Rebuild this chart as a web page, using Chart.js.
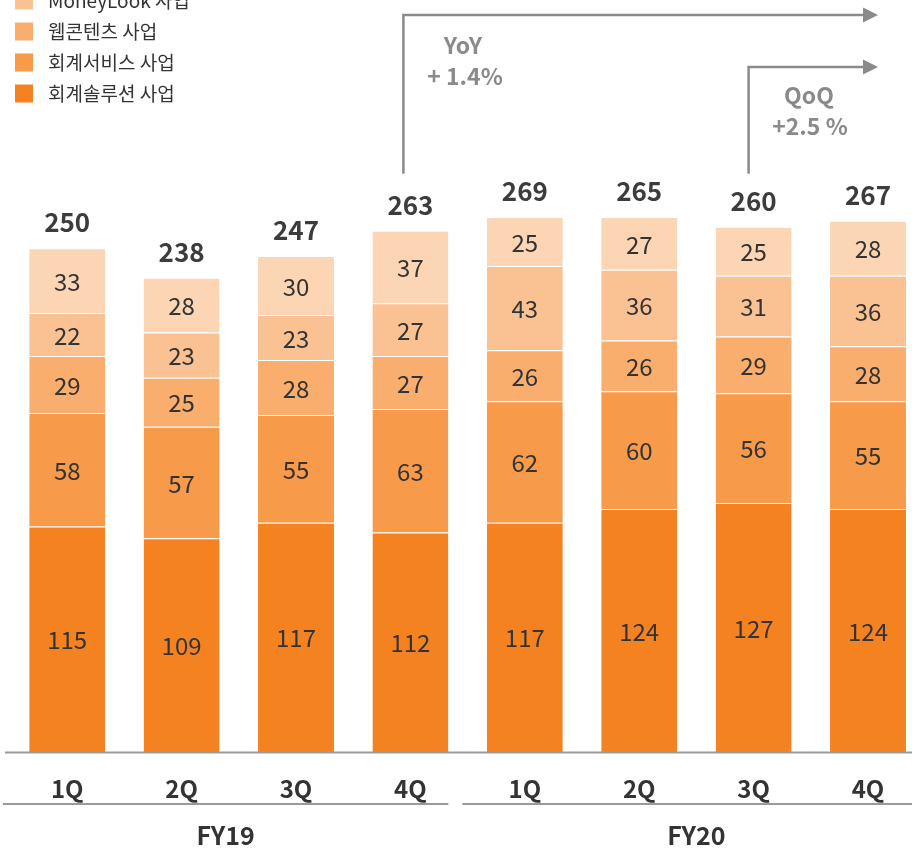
<!DOCTYPE html>
<html>
<head>
<meta charset="utf-8">
<script src="https://cdn.jsdelivr.net/npm/chart.js@4/dist/chart.umd.min.js"></script>
<style>
html,body{margin:0;padding:0;background:#fff;overflow:hidden;width:912px;height:848px;}
#wrap{position:absolute;left:0;top:0;width:940px;height:848px;}
</style>
</head>
<body>
<div id="wrap"><canvas id="c" width="940" height="848"></canvas></div>
<script>
// ---- data ----
const quarters = ['1Q','2Q','3Q','4Q','1Q','2Q','3Q','4Q'];
const fiscalYears = ['FY19','FY20'];
const seriesNames = ['회계솔루션 사업','회계서비스 사업','웹콘텐츠 사업','MoneyLook 사업','기타 사업'];
const accountingSolution = [115,109,117,112,117,124,127,124];
const accountingService  = [58,57,55,63,62,60,56,55];
const webContents        = [29,25,28,27,26,26,29,28];
const moneyLook          = [22,23,23,27,43,36,31,36];
const others             = [33,28,30,37,25,27,25,28];
const totals             = [250,238,247,263,269,265,260,267];
const yoyText = ['YoY','+ 1.4%'];
const qoqText = ['QoQ','+2.5 %'];

const colors = ['#F58220','#F79A4A','#F9AE6E','#FAC193','#FCD5B4'];
const seriesValues = [accountingSolution, accountingService, webContents, moneyLook, others];
const FONT = '"Noto Sans CJK KR", "Noto Sans", sans-serif';

const overlay = {
  id: 'overlay',
  afterDatasetsDraw(chart) {
    const ctx = chart.ctx;
    ctx.save();
    ctx.textAlign = 'center';
    ctx.textBaseline = 'middle';
    // segment labels
    ctx.font = '400 24px ' + FONT;
    ctx.fillStyle = '#333333';
    chart.data.datasets.forEach((ds, di) => {
      const meta = chart.getDatasetMeta(di);
      meta.data.forEach((bar, i) => {
        const cy = (bar.y + bar.base) / 2;
        ctx.fillText(String(ds.data[i]), bar.x, cy + 1);
      });
    });
    // totals
    const topMeta = chart.getDatasetMeta(chart.data.datasets.length - 1);
    ctx.font = '700 26px ' + FONT;
    ctx.fillStyle = '#3c3c3c';
    topMeta.data.forEach((bar, i) => {
      ctx.fillText(String(totals[i]), bar.x, bar.y - 26);
    });
    ctx.restore();
  },
  afterDraw(chart) {
    const ctx = chart.ctx;
    const area = chart.chartArea;
    const topMeta = chart.getDatasetMeta(chart.data.datasets.length - 1);
    const bars = topMeta.data;
    const half = bars[0].width / 2;
    ctx.save();
    // baseline
    ctx.strokeStyle = '#9a9a9a';
    ctx.lineWidth = 2;
    ctx.beginPath();
    ctx.moveTo(area.left - 5, area.bottom + 0.5);
    ctx.lineTo(chart.width, area.bottom + 0.5);
    ctx.stroke();
    // group lines
    const gy = area.bottom + 52;
    const end1 = bars[3].x + half;
    const start2 = end1 + 14;
    const groups = [[area.left - 7, end1], [start2, chart.width]];
    ctx.beginPath();
    groups.forEach(g => { ctx.moveTo(g[0], gy); ctx.lineTo(g[1], gy); });
    ctx.stroke();
    // FY labels
    ctx.font = '600 25px ' + FONT;
    ctx.fillStyle = '#333333';
    ctx.textAlign = 'center';
    ctx.textBaseline = 'middle';
    const fyCenters = [(groups[0][0] + groups[0][1]) / 2, (bars[4].x + bars[7].x) / 2];
    fiscalYears.forEach((t, i) => ctx.fillText(t, fyCenters[i], gy + 31));
    // legend (top item lies above the visible page)
    ctx.textAlign = 'left';
    ctx.font = '400 19px ' + FONT;
    const legendOrder = [4, 3, 2, 1, 0];
    legendOrder.forEach((di, k) => {
      const cy = -31 + k * 31 + 0.5;
      ctx.fillStyle = colors[di];
      ctx.fillRect(15, cy - 9, 18, 18);
      ctx.fillStyle = '#333333';
      ctx.fillText(seriesNames[di], 48, cy);
    });
    // YoY / QoQ brackets
    const gray = '#8a8a8a';
    ctx.strokeStyle = gray;
    ctx.fillStyle = gray;
    ctx.lineWidth = 2.5;
    const lineBottom = bars[3].y - 57;
    const tipX = 878;
    function bracket(x, y) {
      ctx.beginPath();
      ctx.moveTo(x, lineBottom);
      ctx.lineTo(x, y);
      ctx.lineTo(tipX - 14, y);
      ctx.stroke();
      ctx.beginPath();
      ctx.moveTo(tipX - 15, y - 7.5);
      ctx.lineTo(tipX, y);
      ctx.lineTo(tipX - 15, y + 7.5);
      ctx.closePath();
      ctx.fill();
    }
    bracket(bars[3].x - 7, 15);
    bracket(bars[6].x - 5, 67);
    ctx.font = '700 23px ' + FONT;
    ctx.textAlign = 'center';
    ctx.fillText(yoyText[0], 463, 45);
    ctx.fillText(yoyText[1], 465, 76);
    ctx.fillText(qoqText[0], 809, 95);
    ctx.fillText(qoqText[1], 810, 126);
    ctx.restore();
  }
};

new Chart(document.getElementById('c'), {
  type: 'bar',
  data: {
    labels: quarters,
    datasets: seriesValues.map((vals, i) => ({
      label: seriesNames[i],
      data: vals,
      backgroundColor: colors[i],
      borderColor: 'rgba(255,255,255,0.45)',
      borderWidth: {top: 1, left: 0, right: 0, bottom: 0},
      borderSkipped: false,
      barPercentage: 0.664,
      categoryPercentage: 1
    }))
  },
  options: {
    responsive: false,
    animation: false,
    layout: { padding: { left: 10, right: 14.8, top: 164, bottom: 0 } },
    plugins: { legend: { display: false }, tooltip: { enabled: false } },
    scales: {
      x: {
        stacked: true,
        offset: true,
        grid: { display: false, drawTicks: false },
        border: { display: false },
        ticks: { color: '#333333', padding: 22, font: { family: FONT, size: 24, weight: 'bold' } },
        afterFit(s) { s.height = 96; }
      },
      y: { stacked: true, display: false, min: 0, max: 300 }
    }
  },
  plugins: [overlay]
});
</script>
</body>
</html>
